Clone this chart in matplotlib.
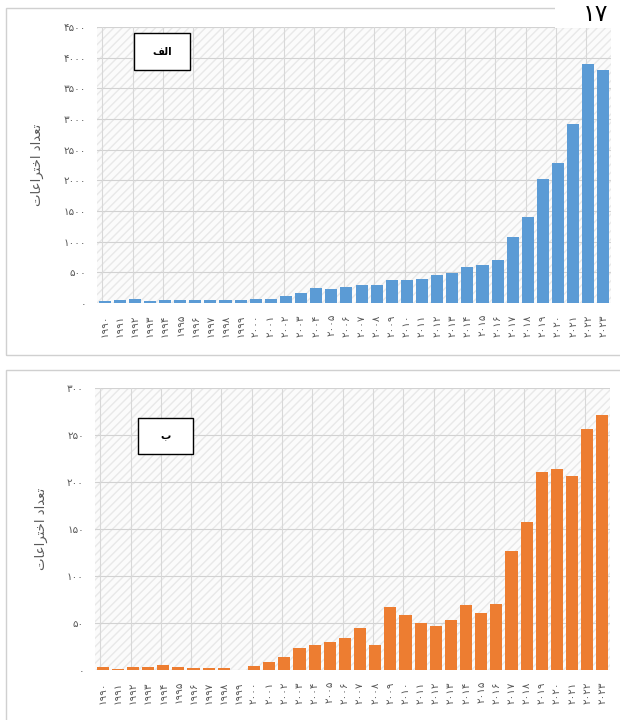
"""
Yearly patent counts, two panels (alef / be), Excel-like bar style
"""
import matplotlib
matplotlib.use("Agg")
from matplotlib import pyplot as plt
from matplotlib.patches import Rectangle

years = [1990, 1991, 1992, 1993, 1994, 1995, 1996, 1997, 1998, 1999,
         2000, 2001, 2002, 2003, 2004, 2005, 2006, 2007, 2008, 2009,
         2010, 2011, 2012, 2013, 2014, 2015, 2016, 2017, 2018, 2019,
         2020, 2021, 2022, 2023]

# panel alef: all patents
patents_a = [40, 45, 60, 35, 55, 50, 50, 45, 45, 50,
             58, 68, 121, 163, 237, 221, 263, 290, 300, 368,
             370, 395, 450, 489, 583, 622, 694, 1083, 1405, 2020,
             2278, 2917, 3900, 3800]

# panel be
patents_b = [3, 1, 3, 3, 5, 3, 2, 2, 2, 0,
             4, 8, 14, 23, 27, 30, 34, 45, 27, 67,
             58, 50, 47, 53, 69, 61, 70, 127, 157, 211,
             214, 206, 256, 271]

yticks_a = [0, 500, 1000, 1500, 2000, 2500, 3000, 3500, 4000, 4500]
yticks_b = [0, 50, 100, 150, 200, 250, 300]

# Arabic text written in presentation forms, visual (left-to-right) order,
# because matplotlib does no shaping / bidi.
ylabel_text = "\ufe95\ufe8e\ufecb\ufe8d\ufeae\ufe98\ufea7\ufe8d \ufea9\ufe8d\ufeaa\ufecc\ufe97"  # تعداد اختراعات
label_a = "\ufed2\ufedf\ufe8d"   # الف
label_b = "\ufe8f"               # ب
page_no = "۱۷"

PERSIAN = str.maketrans("0123456789", "۰۱۲۳۴۵۶۷۸۹")
BLUE = "#5B9BD5"
ORANGE = "#ED7D31"
GRAY = "#595959"


def fa(n):
    return str(n).translate(PERSIAN)


def draw_panel(ax, values, yticks, color, tag, box):
    x = list(range(len(years)))
    ax.set_xlim(-0.5, len(years) - 0.5)
    ax.set_ylim(0, yticks[-1])

    # patterned plot-area background
    ax.add_patch(Rectangle((0, 0), 1, 1, transform=ax.transAxes,
                           facecolor="#fbfbfb", edgecolor="#e8e8e8",
                           hatch="////", lw=0, zorder=0))
    for t in yticks:
        ax.axhline(t, color="#d2d2d2", lw=0.8, zorder=1)
    for k in range(0, len(years) + 1, 2):
        ax.axvline(k - 0.15, color="#d8d8d8", lw=0.8, zorder=1)

    ax.bar(x, values, width=0.8, color=color, zorder=3)

    ax.set_yticks(yticks)
    ax.set_yticklabels([fa(t) for t in yticks], fontsize=7.5, color=GRAY)
    ax.set_xticks(x)
    ax.set_xticklabels([fa(y) for y in years], rotation=90,
                       fontsize=7.5, color=GRAY)
    ax.tick_params(length=0, pad=8)
    for s in ax.spines.values():
        s.set_visible(False)
    ax.set_ylabel(ylabel_text, fontsize=9.5, color=GRAY, labelpad=14)

    # boxed panel tag
    cx, cy, bw, bh = box
    ax.add_patch(Rectangle((cx - bw / 2, cy - bh / 2), bw, bh,
                           transform=ax.transAxes, fc="white", ec="black",
                           lw=1, zorder=5))
    ax.text(cx, cy, tag, transform=ax.transAxes, fontsize=7.5,
            fontweight="bold", ha="center", va="center", zorder=6)


fig = plt.figure(figsize=(6.2, 7.2), dpi=100)
W, H = 620.0, 720.0

# outer frames of the two panels
fig.add_artist(Rectangle((6 / W, 1 - 355 / H), 1.0, (355 - 8) / H,
                         transform=fig.transFigure, fill=False,
                         ec="#d0d0d0", lw=1))
fig.add_artist(Rectangle((6 / W, 1 - 740 / H), 1.0, (740 - 370) / H,
                         transform=fig.transFigure, fill=False,
                         ec="#d0d0d0", lw=1))

ax1 = fig.add_axes([97 / W, 1 - 303 / H, (611 - 97) / W, (303 - 27) / H])
draw_panel(ax1, patents_a, yticks_a, BLUE, label_a,
           (0.126, 0.911, 0.109, 0.134))

ax2 = fig.add_axes([95 / W, 1 - 670 / H, (610 - 95) / W, (670 - 388) / H])
draw_panel(ax2, patents_b, yticks_b, ORANGE, label_b,
           (0.137, 0.83, 0.107, 0.128))

# page number in the top-right corner
fig.add_artist(Rectangle((555 / W, 1 - 28 / H), 70 / W, 28 / H,
                         transform=fig.transFigure, fc="white", ec="none",
                         zorder=10))
fig.text(596 / W, 1 - 2 / H, page_no, fontsize=17, ha="center", va="top",
         color="black", zorder=11)

fig.savefig("out.png", dpi=100)
